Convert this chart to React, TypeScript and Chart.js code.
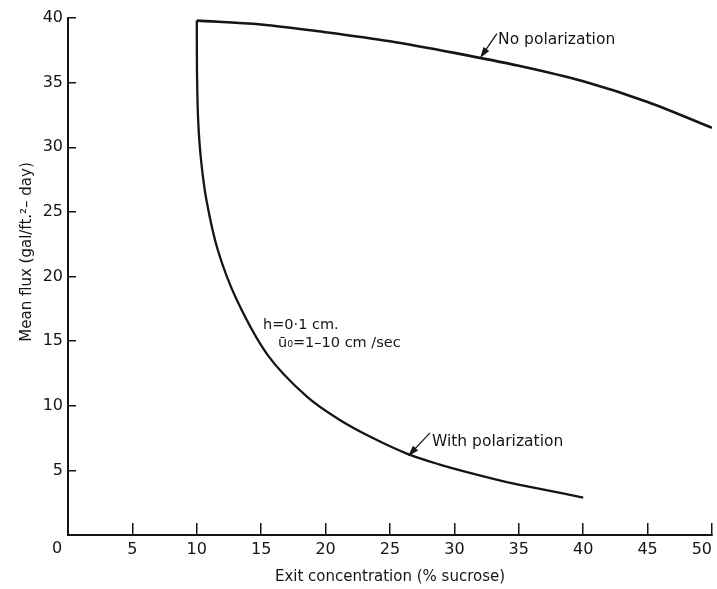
import React, { useEffect, useRef } from "react";
import { Chart, registerables } from "chart.js";

Chart.register(...registerables);

// ---- Data ----
const xTickValues = [0, 5, 10, 15, 20, 25, 30, 35, 40, 45, 50];
const yTickValues = [0, 5, 10, 15, 20, 25, 30, 35, 40];

const noPolX = [10, 15, 20, 25, 30, 35, 40, 45, 50];
const noPolY = [39.8, 39.5, 38.9, 38.2, 37.3, 36.3, 35.1, 33.5, 31.5];

const withPolX = [10, 10.02, 10.11, 10.33, 10.75, 11.63, 13.1, 15.52, 18.55, 21.1, 23.67, 26.3, 28.87, 31.43, 34.07, 36.64, 40];
const withPolY = [39.8, 35.5, 32.0, 29.0, 25.9, 22.05, 18.2, 13.9, 10.7, 8.9, 7.5, 6.3, 5.45, 4.75, 4.1, 3.57, 2.9];

const xTitle = "Exit concentration (% sucrose)";
const yTitle = "Mean flux (gal/ft.\u00B2\u2013 day)";

const noteTexts = ["No polarization", "With polarization", "h=0\u00B71 cm.", "\u016B\u2080=1\u201310 cm /sec"];
const noteX = [33.39, 28.26, 15.14, 16.3];
const noteY = [38.3, 7.2, 16.25, 14.85];
const noteSize = [15.5, 15.5, 14.5, 14.5];

const arrowFromX = [33.3, 28.1];
const arrowFromY = [38.8, 7.9];
const arrowToX = [32.0, 26.4];
const arrowToY = [36.9, 6.1];

const INK = "#151515";
const FONT = '"DejaVu Sans", sans-serif';

const toPoints = (xs: number[], ys: number[]) => xs.map((x, i) => ({ x, y: ys[i] }));

const annotationPlugin = {
  id: "annotations",
  afterDraw(chart: any) {
    const { ctx } = chart;
    const xs = chart.scales.x;
    const ys = chart.scales.y;
    ctx.save();
    ctx.fillStyle = INK;
    ctx.strokeStyle = INK;
    ctx.textAlign = "left";
    ctx.textBaseline = "middle";
    noteTexts.forEach((t, i) => {
      ctx.font = `${noteSize[i]}px ${FONT}`;
      ctx.fillText(t, xs.getPixelForValue(noteX[i]), ys.getPixelForValue(noteY[i]));
    });
    arrowFromX.forEach((_, i) => {
      const x1 = xs.getPixelForValue(arrowFromX[i]);
      const y1 = ys.getPixelForValue(arrowFromY[i]);
      const x2 = xs.getPixelForValue(arrowToX[i]);
      const y2 = ys.getPixelForValue(arrowToY[i]);
      const ang = Math.atan2(y2 - y1, x2 - x1);
      const L = 11;
      const W = 3.5;
      ctx.lineWidth = 1.3;
      ctx.beginPath();
      ctx.moveTo(x1, y1);
      ctx.lineTo(x2 - L * 0.6 * Math.cos(ang), y2 - L * 0.6 * Math.sin(ang));
      ctx.stroke();
      ctx.beginPath();
      ctx.moveTo(x2, y2);
      ctx.lineTo(x2 - L * Math.cos(ang) + W * Math.sin(ang), y2 - L * Math.sin(ang) - W * Math.cos(ang));
      ctx.lineTo(x2 - L * Math.cos(ang) - W * Math.sin(ang), y2 - L * Math.sin(ang) + W * Math.cos(ang));
      ctx.closePath();
      ctx.fill();
    });
    // shared origin label "0"
    ctx.font = `16px ${FONT}`;
    ctx.textAlign = "center";
    ctx.fillText("0", xs.getPixelForValue(0) - 11, ys.getPixelForValue(0) + 14);
    // y-axis title
    ctx.font = `15px ${FONT}`;
    ctx.translate(27, ys.getPixelForValue(21.9));
    ctx.rotate(-Math.PI / 2);
    ctx.fillText(yTitle, 0, 0);
    ctx.restore();
  },
};

export default function App() {
  const ref = useRef<HTMLCanvasElement | null>(null);

  useEffect(() => {
    if (!ref.current) return;
    const chart = new Chart(ref.current, {
      type: "line",
      data: {
        datasets: [
          {
            label: "No polarization",
            data: toPoints(noPolX, noPolY),
            borderColor: INK,
            borderWidth: 2.6,
            pointRadius: 0,
            cubicInterpolationMode: "monotone",
            fill: false,
          },
          {
            label: "With polarization",
            data: toPoints(withPolX, withPolY),
            borderColor: INK,
            borderWidth: 2.3,
            pointRadius: 0,
            tension: 0.35,
            fill: false,
          },
        ],
      },
      options: {
        animation: false,
        responsive: false,
        layout: { padding: { top: 18, right: 5, left: 0, bottom: 0 } },
        plugins: {
          legend: { display: false },
          tooltip: { enabled: false },
        },
        scales: {
          x: {
            type: "linear",
            min: 0,
            max: 50,
            afterBuildTicks: (s: any) => {
              s.ticks = xTickValues.map((v) => ({ value: v }));
            },
            afterFit: (s: any) => {
              s.height = 54;
              s.paddingLeft = 0;
              s.paddingRight = 0;
            },
            border: { display: true, color: INK, width: 2 },
            grid: {
              display: true,
              drawOnChartArea: false,
              drawTicks: true,
              tickLength: -12,
              color: INK,
              lineWidth: 1.5,
            },
            ticks: {
              color: INK,
              font: { family: FONT, size: 16 },
              padding: 17,
              align: "inner",
              maxRotation: 0,
              autoSkip: false,
              callback: (v: any) => (v === 0 ? "" : String(v)),
            },
            title: {
              display: true,
              text: xTitle,
              color: INK,
              font: { family: FONT, size: 15 },
              padding: { top: 0, bottom: 3 },
            },
          },
          y: {
            type: "linear",
            min: 0,
            max: 40,
            afterBuildTicks: (s: any) => {
              s.ticks = yTickValues.map((v) => ({ value: v }));
            },
            afterFit: (s: any) => {
              s.width = 68;
              s.paddingTop = 0;
              s.paddingBottom = 0;
            },
            border: { display: true, color: INK, width: 2 },
            grid: {
              display: true,
              drawOnChartArea: false,
              drawTicks: true,
              tickLength: -8,
              color: INK,
              lineWidth: 1.5,
            },
            ticks: {
              color: INK,
              font: { family: FONT, size: 16 },
              padding: 13,
              autoSkip: false,
              callback: (v: any) => (v === 0 ? "" : String(v)),
            },
            title: { display: false },
          },
        },
      },
      plugins: [annotationPlugin],
    } as any);
    return () => chart.destroy();
  }, []);

  return (
    <div style={{ position: "absolute", left: 0, top: 0, width: 717, height: 589, background: "#fff" }}>
      <canvas ref={ref} width={717} height={589} />
    </div>
  );
}
